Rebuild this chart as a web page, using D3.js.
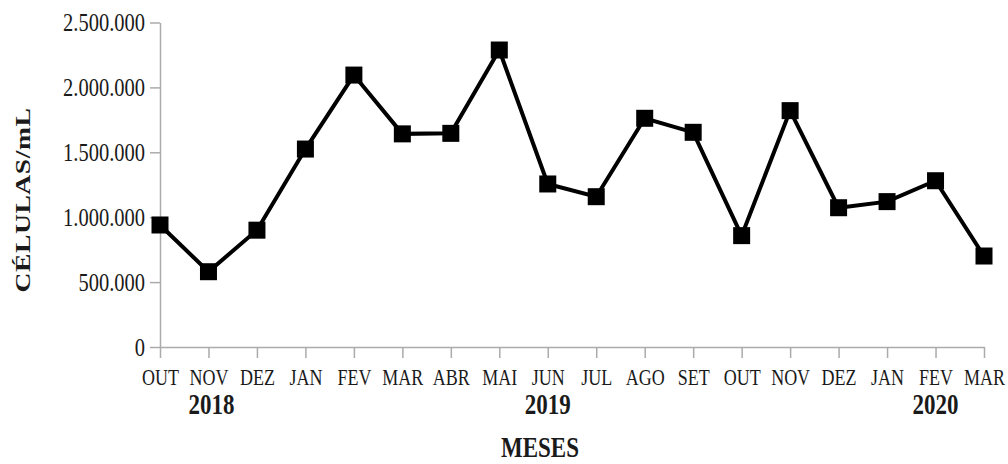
<!DOCTYPE html>
<html>
<head>
<meta charset="utf-8">
<script src="https://cdn.jsdelivr.net/npm/d3@7"></script>
<style>
  html, body { margin: 0; padding: 0; background: #fff; }
  svg { display: block; }
  text { font-family: "Liberation Serif", "Times New Roman", serif; fill: #1a1a1a; }
</style>
</head>
<body>
<svg id="chart" width="1008" height="464"></svg>
<script>
// ---- data ----
const months = ["OUT","NOV","DEZ","JAN","FEV","MAR","ABR","MAI","JUN","JUL","AGO","SET","OUT","NOV","DEZ","JAN","FEV","MAR"];
const cells = [940000, 580000, 900000, 1525000, 2095000, 1642000, 1646000, 2288000, 1256000, 1158000, 1762000, 1654000, 858000, 1821000, 1073000, 1120000, 1281000, 701000];
const yTicks = [0, 500000, 1000000, 1500000, 2000000, 2500000];
const yearLabels = ["2018", "2019", "2020"];
const yearAnchorIdx = [1, 8, 16];
const yTitle = "CÉLULAS/mL";
const xTitle = "MESES";

// ---- layout ----
const svg = d3.select("#chart");
const margin = { left: 160, right: 24, top: 22.5, bottom: 117 };
const W = 1008, H = 464;
const stretch = 1.25;
const fmt = v => v === 0 ? "0" : d3.format(",")(v).replace(/,/g, ".");

const idx = months.map((_, i) => i);
const x = d3.scalePoint().domain(idx).range([margin.left, W - margin.right]);
const y = d3.scaleLinear().domain([0, 2500000]).range([H - margin.bottom, margin.top]);

const axisColor = "#ababab";

// y axis
const gy = svg.append("g")
  .attr("transform", `translate(${margin.left},0)`)
  .call(d3.axisLeft(y).tickValues(yTicks).tickFormat(fmt).tickSize(10).tickSizeOuter(0));
gy.select(".domain").attr("stroke", axisColor).attr("stroke-width", 1.5);
gy.selectAll(".tick line").attr("stroke", axisColor).attr("stroke-width", 1.5);
gy.selectAll(".tick text")
  .attr("x", 0).attr("dy", "0.33em")
  .attr("transform", `translate(-15,0) scale(1,${stretch})`)
  .style("font-size", "20.5px")
  .attr("fill", "#1a1a1a");

// x axis
const gx = svg.append("g")
  .attr("transform", `translate(0,${y(0)})`)
  .call(d3.axisBottom(x).tickFormat(i => months[i]).tickSize(11).tickSizeOuter(0));
gx.select(".domain").attr("stroke", axisColor).attr("stroke-width", 1.5);
gx.selectAll(".tick line").attr("stroke", axisColor).attr("stroke-width", 1.5);
gx.selectAll(".tick text")
  .attr("y", 0).attr("dy", "0.33em")
  .attr("transform", `translate(0,31) scale(1,${stretch})`)
  .style("font-size", "18px")
  .attr("fill", "#1a1a1a");

// year labels
svg.append("g").selectAll("text").data(yearLabels).join("text")
  .attr("text-anchor", "middle")
  .attr("dy", "0.33em")
  .attr("transform", (d, i) => `translate(${x(yearAnchorIdx[i]) + (i === 0 ? 3 : 0)},405) scale(1,${stretch})`)
  .style("font-size", "23px")
  .style("font-weight", "bold")
  .text(d => d);

// axis titles
svg.append("text")
  .attr("text-anchor", "middle")
  .attr("dy", "0.33em")
  .attr("transform", `translate(540,448) scale(1,${stretch})`)
  .style("font-size", "23px")
  .style("font-weight", "bold")
  .text(xTitle);

svg.append("text")
  .attr("text-anchor", "middle")
  .attr("dy", "0.34em")
  .attr("transform", `translate(23,200) scale(1,${stretch}) rotate(-90)`)
  .style("font-size", "22px")
  .style("font-weight", "bold")
  .style("letter-spacing", "0.5px")
  .text(yTitle);

// line
const line = d3.line().x((d, i) => x(i)).y(d => y(d));
svg.append("path")
  .datum(cells)
  .attr("d", line)
  .attr("fill", "none")
  .attr("stroke", "#000")
  .attr("stroke-width", 4);

// markers
const ms = 17;
svg.append("g").selectAll("rect").data(cells).join("rect")
  .attr("x", (d, i) => x(i) - ms / 2)
  .attr("y", d => y(d) - ms / 2)
  .attr("width", ms)
  .attr("height", ms)
  .attr("fill", "#000");
</script>
</body>
</html>
